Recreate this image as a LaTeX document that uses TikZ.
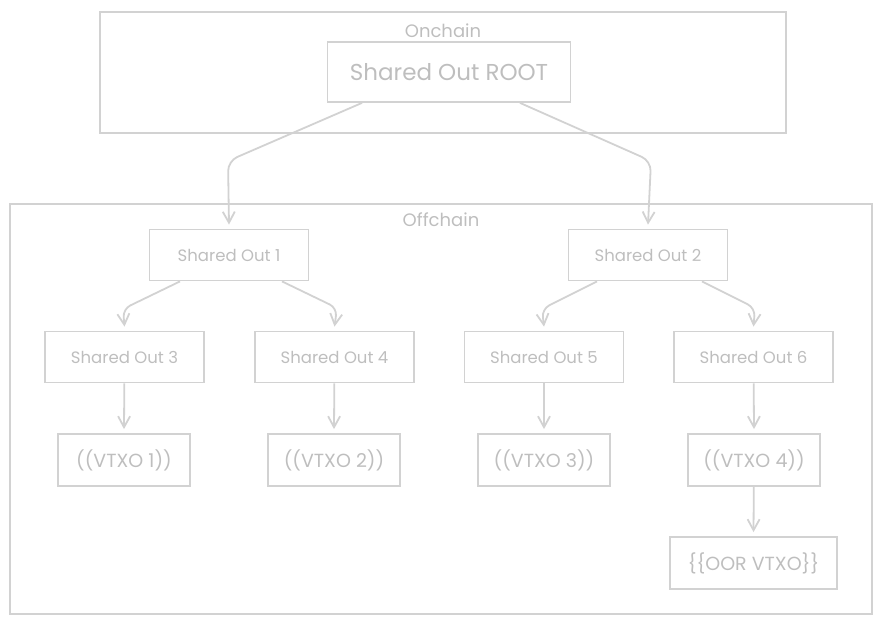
\documentclass[tikz,border=0pt]{standalone}
\usepackage{fontspec}
\setmainfont{Poppins}
\usepackage{xcolor}
\usetikzlibrary{arrows.meta,positioning}
\definecolor{sketch}{HTML}{D2D2D2}
\definecolor{sketchtext}{HTML}{BEBEBE}

\begin{document}
\begin{tikzpicture}[
  x=1pt, y=1pt,
  line width=1.8pt,
  >={Straight Barb[length=11pt,width=12pt]},
  box/.style={draw=sketch, text=sketchtext, inner sep=0pt,
              minimum width=#1, minimum height=51pt,
              font=\fontsize{16.5}{19}\selectfont},
  box/.default=159pt,
  leaf/.style={box=#1, minimum height=52pt, font=\fontsize{19}{22}\selectfont},
  leaf/.default=132pt,
  group/.style={draw=sketch, inner sep=0pt},
  glbl/.style={text=sketchtext, font=\fontsize{18}{21}\selectfont},
  conn/.style={->, draw=sketch, rounded corners=10pt},
]
\useasboundingbox (0,0) rectangle (882,624);

%─── Onchain group ───────────────────────────────────────────────────────────
\node[group, minimum width=686pt, minimum height=121pt] (onchain) at (443,551.5) {};
\node[glbl] (onchainlbl) at (443,593) {Onchain};
\node[box=243pt, minimum height=60pt, font=\fontsize{23}{26}\selectfont] (root) at (449,552) {Shared Out ROOT};

%─── Offchain group ──────────────────────────────────────────────────────────
\node[group, minimum width=862pt, minimum height=410pt] (offchain) at (441,215) {};
\node[glbl] (offchainlbl) at (441,404) {Offchain};

% first level
\node[box] (so1) at (229,369) {Shared Out 1};
\node[box] (so2) at (648,369) {Shared Out 2};

% second level
\node[box] (so3) at (124.5,267) {Shared Out 3};
\node[box] (so4) at (334.5,267) {Shared Out 4};
\node[box] (so5) at (544,267) {Shared Out 5};
\node[box] (so6) at (753.5,267) {Shared Out 6};

% leaves
\node[leaf] (vtxo1) at (124,164) {((VTXO 1))};
\node[leaf] (vtxo2) at (334,164) {((VTXO 2))};
\node[leaf] (vtxo3) at (544,164) {((VTXO 3))};
\node[leaf] (vtxo4) at (754,164) {((VTXO 4))};
\node[leaf=167pt] (oor) at (753.5,61) {\{\{OOR VTXO\}\}};

%─── Connectors ──────────────────────────────────────────────────────────────
\draw[conn] ([xshift=-87pt]root.south) -- (228,463) -- ([yshift=4pt]so1.north);
\draw[conn] ([xshift=71pt]root.south) -- (651,463) -- ([yshift=4pt]so2.north);

\draw[conn, rounded corners=8pt] ([xshift=-49pt]so1.south) -- (123,315) -- ([yshift=4pt]so3.north);
\draw[conn, rounded corners=8pt] ([xshift=53pt]so1.south) -- (337,316) -- ([yshift=4pt]so4.north);
\draw[conn, rounded corners=8pt] ([xshift=-51pt]so2.south) -- (542,315) -- ([yshift=4pt]so5.north);
\draw[conn, rounded corners=8pt] ([xshift=54pt]so2.south) -- (755,316) -- ([yshift=4pt]so6.north);

\draw[conn] (so3) -- ([yshift=4pt]vtxo1.north);
\draw[conn] (so4) -- ([yshift=4pt]vtxo2.north);
\draw[conn] (so5) -- ([yshift=4pt]vtxo3.north);
\draw[conn] (so6) -- ([yshift=4pt]vtxo4.north);
\draw[conn] (vtxo4) -- ([yshift=4pt]oor.north);

\end{tikzpicture}
\end{document}
